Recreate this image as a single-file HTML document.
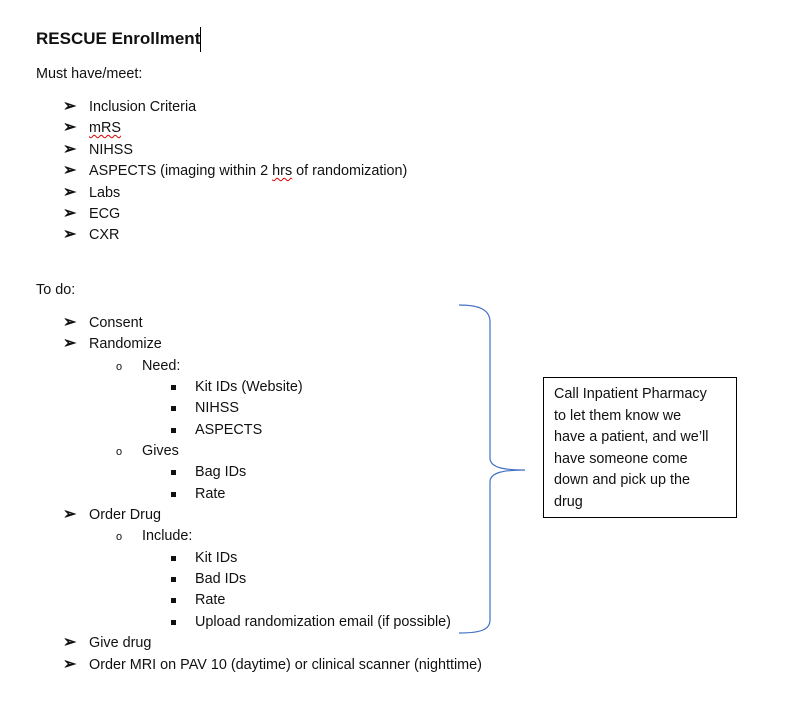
<!DOCTYPE html>
<html><head><meta charset="utf-8"><style>
body{margin:0;width:789px;height:725px;background:#fff;position:relative;overflow:hidden;font-family:"Liberation Sans",sans-serif;font-size:14.4px;color:#111}
.t{position:absolute;line-height:20px;white-space:nowrap}
.a{position:absolute;line-height:20px;font-size:16px;font-weight:bold}
.o{position:absolute;line-height:20px;font-size:11px}
.s{position:absolute;width:5px;height:5px;background:#111}
.sq{text-decoration:underline wavy #d00;text-decoration-thickness:1px;text-underline-offset:2px}
</style></head><body>
<div class="t" style="left:36px;top:28px;font-weight:bold;font-size:17px;line-height:22px">RESCUE Enrollment</div>
<div style="position:absolute;left:200px;top:27px;width:1px;height:25px;background:#000"></div>
<div class="t" style="left:36px;top:64px">Must have/meet:</div>

<div class="a" style="left:63px;top:97px">➢</div><div class="t" style="left:89px;top:97px">Inclusion Criteria</div>
<div class="a" style="left:63px;top:118px">➢</div><div class="t" style="left:89px;top:118px"><span class="sq">mRS</span></div>
<div class="a" style="left:63px;top:140px">➢</div><div class="t" style="left:89px;top:140px">NIHSS</div>
<div class="a" style="left:63px;top:161px">➢</div><div class="t" style="left:89px;top:161px">ASPECTS (imaging within 2 <span class="sq">hrs</span> of randomization)</div>
<div class="a" style="left:63px;top:183px">➢</div><div class="t" style="left:89px;top:183px">Labs</div>
<div class="a" style="left:63px;top:204px">➢</div><div class="t" style="left:89px;top:204px">ECG</div>
<div class="a" style="left:63px;top:225px">➢</div><div class="t" style="left:89px;top:225px">CXR</div>

<div class="t" style="left:36px;top:280px">To do:</div>
<div class="a" style="left:63px;top:313px">➢</div><div class="t" style="left:89px;top:313px">Consent</div>
<div class="a" style="left:63px;top:334px">➢</div><div class="t" style="left:89px;top:334px">Randomize</div>
<div class="o" style="left:116px;top:357px">o</div><div class="t" style="left:142px;top:356px">Need:</div>
<div class="s" style="left:171px;top:385px"></div><div class="t" style="left:195px;top:377px">Kit IDs (Website)</div>
<div class="s" style="left:171px;top:406px"></div><div class="t" style="left:195px;top:398px">NIHSS</div>
<div class="s" style="left:171px;top:428px"></div><div class="t" style="left:195px;top:420px">ASPECTS</div>
<div class="o" style="left:116px;top:442px">o</div><div class="t" style="left:142px;top:441px">Gives</div>
<div class="s" style="left:171px;top:470px"></div><div class="t" style="left:195px;top:462px">Bag IDs</div>
<div class="s" style="left:171px;top:492px"></div><div class="t" style="left:195px;top:484px">Rate</div>
<div class="a" style="left:63px;top:505px">➢</div><div class="t" style="left:89px;top:505px">Order Drug</div>
<div class="o" style="left:116px;top:527px">o</div><div class="t" style="left:142px;top:526px">Include:</div>
<div class="s" style="left:171px;top:556px"></div><div class="t" style="left:195px;top:548px">Kit IDs</div>
<div class="s" style="left:171px;top:577px"></div><div class="t" style="left:195px;top:569px">Bad IDs</div>
<div class="s" style="left:171px;top:598px"></div><div class="t" style="left:195px;top:590px">Rate</div>
<div class="s" style="left:171px;top:620px"></div><div class="t" style="left:195px;top:612px">Upload randomization email (if possible)</div>
<div class="a" style="left:63px;top:633px">➢</div><div class="t" style="left:89px;top:633px">Give drug</div>
<div class="a" style="left:63px;top:655px">➢</div><div class="t" style="left:89px;top:655px">Order MRI on PAV 10 (daytime) or clinical scanner (nighttime)</div>

<svg style="position:absolute;left:0;top:0" width="789" height="725">
<path d="M459,305 C480,305 490,310 490,322 L490,458 C490,468 505,470 525,470 C505,470 490,472 490,482 L490,620 C490,630 480,633 459,633" fill="none" stroke="#4472c4" stroke-width="1.2"/>
<rect x="543.5" y="377.5" width="193" height="140" fill="none" stroke="#000" stroke-width="1"/>
</svg>
<div class="t" style="left:554px;top:384px;line-height:21.5px;white-space:normal;width:182px">Call Inpatient Pharmacy<br>to let them know we<br>have a patient, and we’ll<br>have someone come<br>down and pick up the<br>drug</div>
</body></html>
